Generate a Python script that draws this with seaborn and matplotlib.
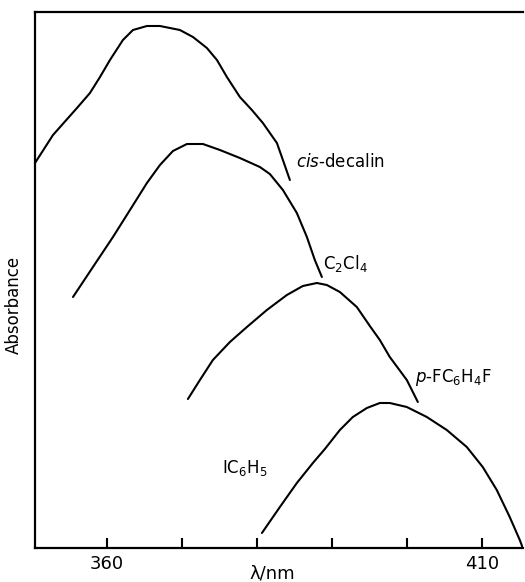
import numpy as np
import pandas as pd
import matplotlib
matplotlib.use("Agg")
import matplotlib.pyplot as plt
import seaborn as sns

# ---- data (wavelength in nm, absorbance in arbitrary units, offset stacked) ----
cis_decalin_nm = [350.4, 352.8, 356.0, 357.73, 359.07, 360.4, 362.13, 363.47, 365.33, 367.07,
                  369.73, 371.47, 373.33, 374.67, 376.0, 377.73, 379.33, 380.8, 382.67, 383.47, 384.4]
cis_decalin_abs = [3.85, 4.13, 4.40, 4.55, 4.71, 4.88, 5.08, 5.18, 5.22, 5.22,
                   5.18, 5.11, 5.00, 4.88, 4.71, 4.51, 4.38, 4.25, 4.05, 3.88, 3.68]

c2cl4_nm = [355.47, 358.13, 360.8, 363.07, 365.33, 367.07, 368.8, 370.67, 372.8, 375.07,
            377.73, 380.4, 381.73, 383.47, 385.33, 386.67, 387.73, 388.67]
c2cl4_abs = [2.51, 2.81, 3.11, 3.38, 3.65, 3.83, 3.97, 4.04, 4.04, 3.98,
             3.90, 3.81, 3.74, 3.58, 3.35, 3.11, 2.88, 2.71]

pfc6h4f_nm = [370.8, 372.4, 374.13, 376.4, 378.67, 381.33, 384.0, 386.13, 388.0, 389.33,
              391.07, 393.33, 395.07, 396.4, 397.73, 400.0, 401.47]
pfc6h4f_abs = [1.49, 1.68, 1.88, 2.06, 2.21, 2.38, 2.53, 2.62, 2.65, 2.63,
               2.56, 2.41, 2.22, 2.08, 1.91, 1.68, 1.46]

ic6h5_nm = [380.67, 383.07, 385.33, 387.47, 389.07, 391.07, 392.8, 394.67, 396.4, 397.73,
            400.0, 402.67, 405.33, 408.0, 410.13, 412.0, 413.73, 415.07, 415.47]
ic6h5_abs = [0.15, 0.41, 0.65, 0.85, 0.99, 1.18, 1.31, 1.40, 1.45, 1.45,
             1.41, 1.31, 1.18, 1.01, 0.81, 0.58, 0.31, 0.08, 0.0]

solvents = ["cis-decalin", "C2Cl4", "p-FC6H4F", "IC6H5"]
labels = [r"$\mathit{cis}$-decalin", r"C$_2$Cl$_4$", r"$\mathit{p}$-FC$_6$H$_4$F", r"IC$_6$H$_5$"]
label_pos = [(385.2, 3.86), (388.8, 2.85), (401.1, 1.71), (375.3, 0.80)]
tick_values = [360, 370, 380, 390, 400, 410]
tick_labels = ["360", "", "", "", "", "410"]

frames = []
for name, xs, ys in zip(solvents,
                        [cis_decalin_nm, c2cl4_nm, pfc6h4f_nm, ic6h5_nm],
                        [cis_decalin_abs, c2cl4_abs, pfc6h4f_abs, ic6h5_abs]):
    frames.append(pd.DataFrame({"nm": xs, "abs": ys, "solvent": name}))
df = pd.concat(frames, ignore_index=True)

sns.set_theme(style="ticks")
plt.rcParams["font.family"] = ["DejaVu Sans"]
plt.rcParams["mathtext.fontset"] = "dejavusans"

fig = plt.figure(figsize=(5.25, 5.82), dpi=100)
ax = fig.add_axes([35 / 525, 1 - 548 / 582, (523 - 35) / 525, (548 - 12) / 582])

sns.lineplot(data=df, x="nm", y="abs", hue="solvent", units="solvent", estimator=None,
             palette=["black"] * 4, linewidth=1.5, legend=False, sort=False, ax=ax,
             solid_joinstyle="round", solid_capstyle="round")

ax.set_xlim(350.4, 415.5)
ax.set_ylim(0, 5.36)
ax.set_xticks(tick_values)
ax.set_xticklabels(tick_labels)
ax.set_yticks([])
ax.tick_params(axis="x", direction="in", length=7, width=1.5, pad=5,
               labelsize=13, colors="black")
for side in ["left", "bottom", "top"]:
    ax.spines[side].set_visible(True)
    ax.spines[side].set_linewidth(1.6)
    ax.spines[side].set_color("black")
ax.spines["right"].set_visible(False)
ax.set_xlabel("")
ax.set_ylabel("")

for lab, (lx, ly) in zip(labels, label_pos):
    ax.text(lx, ly, lab, ha="left", va="center", fontsize=12, color="black")

fig.text(14 / 525, 1 - 305 / 582, "Absorbance", rotation=90, ha="center", va="center",
         fontsize=12, color="black")
fig.text(272 / 525, 1 - 574 / 582, "λ/nm", ha="center", va="center",
         fontsize=13, color="black")

fig.savefig("out.png", dpi=100, facecolor="white")
